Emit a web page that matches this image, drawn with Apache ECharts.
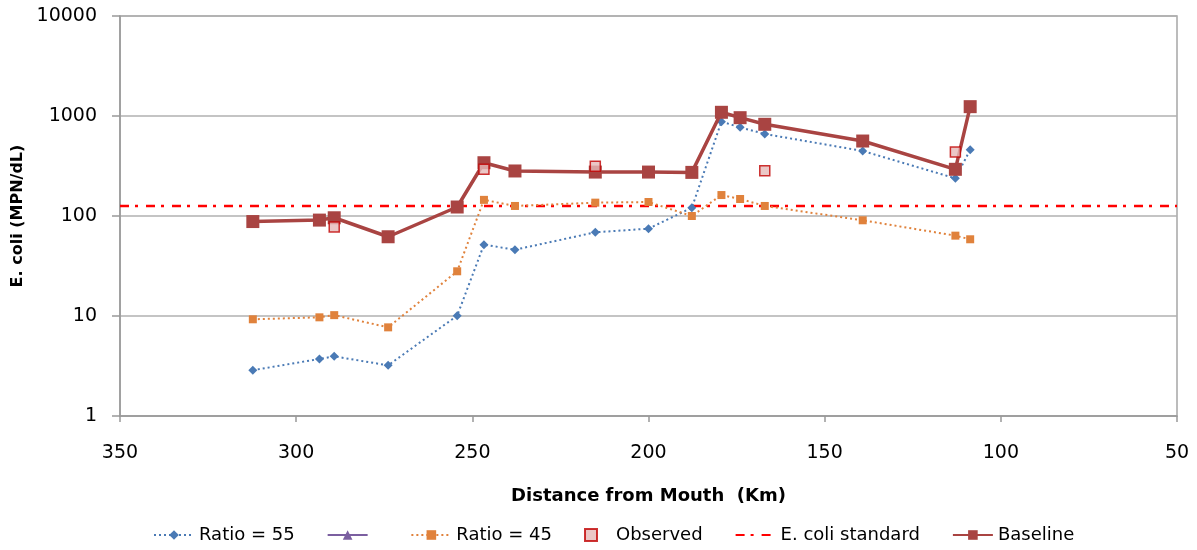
<!DOCTYPE html>
<html>
<head>
<meta charset="utf-8">
<script src="https://cdn.jsdelivr.net/npm/echarts@6/dist/echarts.min.js"></script>
<style>
html,body{margin:0;padding:0;background:#fff;}
#chart{width:1197px;height:550px;}
</style>
</head>
<body>
<div id="chart"></div>
<script>
// Distance from mouth (km) for the model stations
const distanceKm = [312.3, 293.4, 289.2, 273.9, 254.3, 246.7, 237.9, 215.1, 200.0, 187.7, 179.3, 174.0, 167.0, 139.2, 112.9, 108.7];
const baseline   = [88, 91, 96, 62, 123, 341, 282, 275, 275, 273, 1089, 962, 826, 562, 293, 1240];
const ratio55    = [2.87, 3.72, 3.95, 3.21, 10.07, 51.7, 46, 68.7, 74.7, 121, 878, 770, 661, 447, 238, 460];
const ratio45    = [9.27, 9.7, 10.2, 7.7, 28, 145, 126, 136, 138, 100, 162, 148, 126, 90.6, 63.6, 58.5];
const observedKm = [289.2, 246.7, 215.1, 167.0, 112.9];
const observed   = [77.6, 293, 314, 284, 437];
const standardKm = [350, 50];
const standardValue = 126;
const xTicks = [350, 300, 250, 200, 150, 100, 50];
const yTicks = [1, 10, 100, 1000, 10000];

const pairs = (xs, ys) => xs.map((x, i) => [x, ys[i]]);

const FONT = 'DejaVu Sans';
const chart = echarts.init(document.getElementById('chart'));
chart.setOption({
  animation: false,
  backgroundColor: '#fff',
  textStyle: { fontFamily: FONT },
  grid: { left: 120, right: 20, top: 16, bottom: 134, show: true, borderColor: '#a6a6a6', borderWidth: 1.5 },
  xAxis: {
    type: 'value', inverse: true, min: xTicks[xTicks.length - 1], max: xTicks[0], interval: 50,
    name: 'Distance from Mouth  (Km)', nameLocation: 'middle', nameGap: 71,
    nameTextStyle: { fontFamily: FONT, fontWeight: 'bold', fontSize: 18, color: '#000' },
    axisLine: { show: true, lineStyle: { color: '#999', width: 1.5 } },
    axisTick: { show: true, inside: false, length: 6, lineStyle: { color: '#999', width: 1.5 } },
    axisLabel: { fontFamily: FONT, fontSize: 19, color: '#000', margin: 28 },
    splitLine: { show: false }
  },
  yAxis: {
    type: 'log', logBase: 10, min: yTicks[0], max: yTicks[yTicks.length - 1],
    name: 'E. coli (MPN/dL)', nameLocation: 'middle', nameGap: 84, nameRotate: 90,
    nameTextStyle: { fontFamily: FONT, fontWeight: 'bold', fontSize: 16, color: '#000' },
    axisLine: { show: true, lineStyle: { color: '#999', width: 1.5 } },
    axisTick: { show: true, inside: false, length: 8, lineStyle: { color: '#999', width: 1.5 } },
    axisLabel: { fontFamily: FONT, fontSize: 19, color: '#000', margin: 23, formatter: v => String(v) },
    splitLine: { show: true, lineStyle: { color: '#b0b0b0', width: 1.5 } }
  },
  legend: {
    bottom: 1, left: 148, itemWidth: 40, itemHeight: 12, itemGap: 32,
    symbolKeepAspect: true,
    textStyle: { fontFamily: FONT, fontSize: 18, color: '#000' },
    data: [
      'Ratio = 55', ' ', 'Ratio = 45',
      { name: 'Observed', icon: 'path://M0,0L10,0L10,10L0,10Z' },
      { name: 'E. coli standard', itemStyle: { color: 'rgba(0,0,0,0)', borderWidth: 0 } },
      'Baseline'
    ]
  },
  series: [
    {
      name: 'Ratio = 55', type: 'line', data: pairs(distanceKm, ratio55),
      symbol: 'diamond', symbolSize: 9, z: 3,
      itemStyle: { color: '#4a7ab5' },
      lineStyle: { color: '#4a7ab5', width: 2, type: [2, 3] }
    },
    {
      name: ' ', type: 'line', data: [],
      symbol: 'triangle', symbolSize: 9,
      itemStyle: { color: '#7b5fa0' },
      lineStyle: { color: '#7b5fa0', width: 2.5 }
    },
    {
      name: 'Ratio = 45', type: 'line', data: pairs(distanceKm, ratio45),
      symbol: 'rect', symbolSize: 8, z: 3,
      itemStyle: { color: '#e0823c' },
      lineStyle: { color: '#e0823c', width: 2, type: [2, 3] }
    },
    {
      name: 'E. coli standard', type: 'line', data: standardKm.map(x => [x, standardValue]),
      symbol: 'none', z: 2,
      itemStyle: { color: '#ff0000' },
      lineStyle: { color: '#ff0000', width: 2.5, type: [9, 6, 3, 8] }
    },
    {
      name: 'Baseline', type: 'line', data: pairs(distanceKm, baseline),
      symbol: 'rect', symbolSize: 13, z: 4,
      itemStyle: { color: '#a94442' },
      lineStyle: { color: '#a94442', width: 3.5 }
    },
    {
      name: 'Observed', type: 'scatter', data: pairs(observedKm, observed),
      symbol: 'rect', symbolSize: 10, z: 5,
      itemStyle: { color: '#e6b9b8', borderColor: '#c00000', borderWidth: 1.5 }
    }
  ]
});
</script>
</body>
</html>
